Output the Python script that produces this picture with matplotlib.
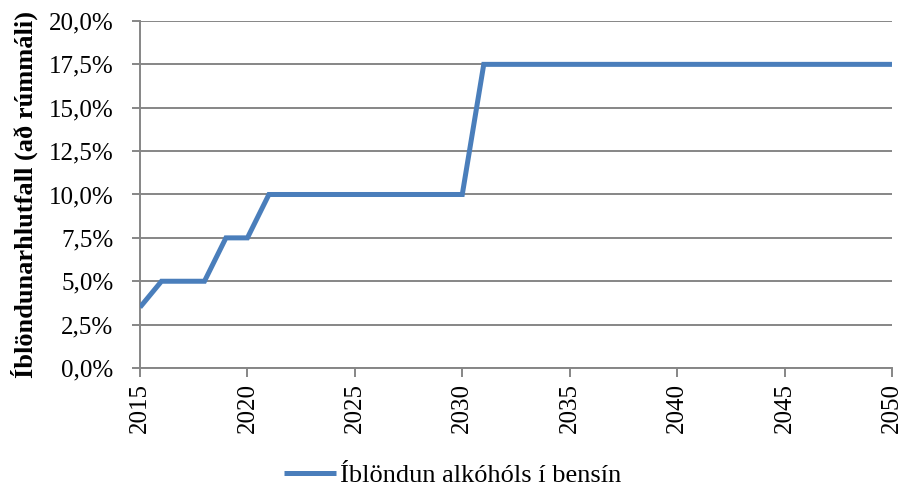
import matplotlib
matplotlib.use("Agg")
import matplotlib.pyplot as plt
from matplotlib.ticker import FuncFormatter, MultipleLocator

years = list(range(2015, 2051))
blend_pct = ([3.5, 5.0, 5.0, 5.0, 7.5, 7.5]
             + [10.0] * 10
             + [17.5] * 20)
series_label = "Íblöndun alkóhóls í bensín"
y_label = "Íblöndunarhlutfall (að rúmmáli)"

plt.rcParams["font.family"] = ["Liberation Serif", "DejaVu Serif"]

fig = plt.figure(figsize=(9.05, 4.88), dpi=100)
ax = fig.add_axes([0.1547, 0.2459, 0.8309, 0.7111])

grid_c = "#868686"
ax.plot(years, blend_pct, color="#4A7EBB", lw=3.6, solid_capstyle="butt",
        solid_joinstyle="miter", label=series_label, zorder=3)

ax.set_xlim(2015, 2050)
ax.set_ylim(0, 20)
ax.yaxis.set_major_locator(MultipleLocator(2.5))
ax.xaxis.set_major_locator(MultipleLocator(5))
ax.yaxis.set_major_formatter(FuncFormatter(lambda v, p: f"{v:.1f}%".replace(".", ",")))

ax.grid(axis="y", color=grid_c, lw=1.4)
ax.set_axisbelow(True)
for s in ("top", "right"):
    ax.spines[s].set_visible(False)
for s in ("left", "bottom"):
    ax.spines[s].set_color(grid_c)
    ax.spines[s].set_linewidth(1.4)

ax.tick_params(axis="y", length=6, width=1.4, color=grid_c, labelsize=18, pad=13)
ax.tick_params(axis="x", length=6.5, width=1.4, color=grid_c, labelsize=18,
               labelrotation=90, pad=4)

ax.set_ylabel(y_label, fontsize=19, fontweight="bold", labelpad=8)

fig.legend(loc="center", bbox_to_anchor=(0.5, 0.026), frameon=False,
           fontsize=19, handlelength=1.95, handletextpad=0.15, borderpad=0.2)

fig.savefig("out.png", dpi=100)
